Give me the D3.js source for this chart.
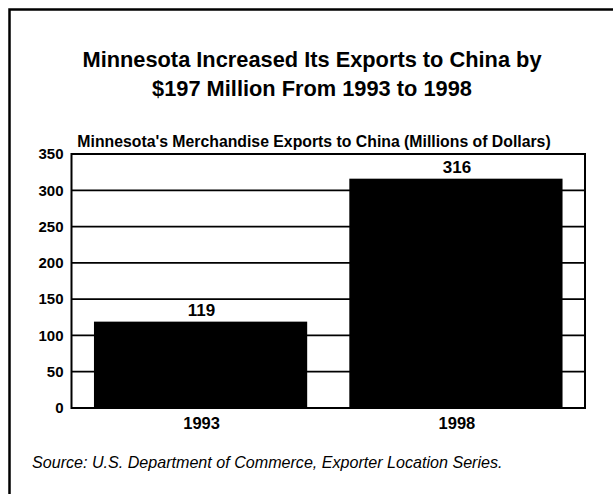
<!DOCTYPE html>
<html>
<head>
<meta charset="utf-8">
<script src="https://cdn.jsdelivr.net/npm/d3@7"></script>
<style>
  html, body { margin: 0; padding: 0; background: #fff; }
  svg { display: block; font-family: "Liberation Sans", Arial, Helvetica, sans-serif; }
</style>
</head>
<body>
<svg id="chart" width="613" height="494"></svg>
<script>
// ---- data ----
const titleLines = ["Minnesota Increased Its Exports to China by", "$197 Million From 1993 to 1998"];
const subtitle = "Minnesota's Merchandise Exports to China (Millions of Dollars)";
const sourceLabel = "Source:";
const sourceText = " U.S. Department of Commerce, Exporter Location Series.";
const years = ["1993", "1998"];
const exportsValues = [119, 316];
const yTicks = [0, 50, 100, 150, 200, 250, 300, 350];

// ---- layout ----
const svg = d3.select("#chart");
const W = 613, H = 494;
const plot = { left: 71.5, right: 585, top: 154, bottom: 408 };

// outer frame
svg.append("rect")
  .attr("x", 9.5).attr("y", 9.5)
  .attr("width", W + 20).attr("height", H + 20)
  .attr("fill", "none").attr("stroke", "#000").attr("stroke-width", 2.5);

// title
svg.append("g").selectAll("text").data(titleLines).join("text")
  .attr("x", 312)
  .attr("y", (d, i) => 66.5 + i * 29.5)
  .attr("text-anchor", "middle")
  .attr("font-size", 21.8)
  .attr("font-weight", "bold")
  .attr("fill", "#000")
  .text(d => d);

// subtitle
svg.append("text")
  .attr("x", 314).attr("y", 146.5)
  .attr("text-anchor", "middle")
  .attr("font-size", 15.8)
  .attr("font-weight", "bold")
  .text(subtitle);

const x = d3.scaleBand()
  .domain(years)
  .range([plot.left, plot.right])
  .paddingInner(0.165)
  .paddingOuter(0.088);

const y = d3.scaleLinear()
  .domain([0, 350])
  .range([plot.bottom, plot.top]);

// gridlines
svg.append("g").selectAll("line").data(yTicks).join("line")
  .attr("x1", plot.left).attr("x2", plot.right)
  .attr("y1", d => y(d)).attr("y2", d => y(d))
  .attr("stroke", "#000").attr("stroke-width", 1.8);

// y axis labels
const yAxis = d3.axisLeft(y).tickValues(yTicks).tickSize(0).tickPadding(8);
const yg = svg.append("g").attr("transform", `translate(${plot.left},0)`).call(yAxis);
yg.select(".domain").remove();
yg.selectAll("text")
  .attr("font-size", 15)
  .attr("font-weight", "bold")
  .attr("font-family", "'Liberation Sans', Arial, sans-serif")
  .attr("fill", "#000");

// bars
svg.append("g").selectAll("rect").data(years).join("rect")
  .attr("x", d => x(d))
  .attr("y", (d, i) => y(exportsValues[i]))
  .attr("width", x.bandwidth())
  .attr("height", (d, i) => y(0) - y(exportsValues[i]))
  .attr("fill", "#000");

// value labels
svg.append("g").selectAll("text").data(years).join("text")
  .attr("x", d => x(d) + x.bandwidth() / 2 + 1)
  .attr("y", (d, i) => y(exportsValues[i]) - 6)
  .attr("text-anchor", "middle")
  .attr("font-size", 17)
  .attr("font-weight", "bold")
  .text((d, i) => exportsValues[i]);

// plot frame
svg.append("rect")
  .attr("x", plot.left).attr("y", plot.top)
  .attr("width", plot.right - plot.left).attr("height", plot.bottom - plot.top)
  .attr("fill", "none").attr("stroke", "#000").attr("stroke-width", 2);

// x axis labels
const xAxis = d3.axisBottom(x).tickSize(0).tickPadding(9);
const xg = svg.append("g").attr("transform", `translate(1,${plot.bottom})`).call(xAxis);
xg.select(".domain").remove();
xg.selectAll("text")
  .attr("font-size", 16.5)
  .attr("font-weight", "bold")
  .attr("font-family", "'Liberation Sans', Arial, sans-serif")
  .attr("fill", "#000");

// source
const src = svg.append("text")
  .attr("x", 32).attr("y", 468)
  .attr("font-size", 16.1)
  .attr("font-style", "italic");
src.append("tspan").text(sourceLabel);
src.append("tspan").text(sourceText);
</script>
</body>
</html>
